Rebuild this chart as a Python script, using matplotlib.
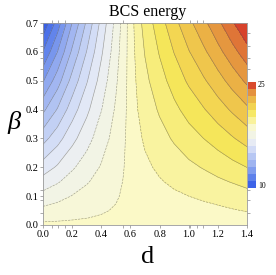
import matplotlib.pyplot as plt
import numpy as np
from matplotlib.colors import LinearSegmentedColormap, Normalize

# grid: d along columns, beta along rows
d_values = [0.0, 0.1, 0.2, 0.3, 0.4, 0.5, 0.55, 0.6, 0.65, 0.7, 0.8, 0.9, 1.0, 1.1, 1.2, 1.3, 1.4]
beta_values = [0.0, 0.025, 0.05, 0.1, 0.15, 0.2, 0.3, 0.4, 0.5, 0.6, 0.7]
energy = [
    [18.61, 18.61, 18.61, 18.61, 18.61, 18.61, 18.61, 18.61, 18.61, 18.61, 18.61, 18.61, 18.61, 18.61, 18.61, 18.61, 18.61],
    [18.31, 18.36, 18.42, 18.47, 18.52, 18.57, 18.59, 18.62, 18.64, 18.66, 18.70, 18.74, 18.78, 18.82, 18.86, 18.91, 18.96],
    [18.00, 18.11, 18.23, 18.33, 18.43, 18.52, 18.57, 18.62, 18.68, 18.71, 18.78, 18.84, 18.90, 18.96, 19.02, 19.09, 19.16],
    [17.40, 17.61, 17.85, 18.05, 18.25, 18.43, 18.53, 18.64, 18.74, 18.81, 18.92, 19.03, 19.13, 19.22, 19.31, 19.42, 19.55],
    [16.79, 17.11, 17.47, 17.77, 18.06, 18.35, 18.49, 18.65, 18.81, 18.91, 19.08, 19.24, 19.38, 19.52, 19.67, 19.82, 19.98],
    [16.18, 16.61, 17.08, 17.49, 17.88, 18.26, 18.45, 18.66, 18.87, 19.01, 19.24, 19.44, 19.64, 19.82, 20.02, 20.23, 20.44],
    [14.97, 15.62, 16.32, 16.93, 17.52, 18.08, 18.38, 18.69, 19.00, 19.22, 19.55, 19.86, 20.16, 20.43, 20.72, 21.03, 21.35],
    [13.76, 14.62, 15.56, 16.37, 17.15, 17.91, 18.30, 18.71, 19.13, 19.42, 19.86, 20.28, 20.67, 21.03, 21.43, 21.84, 22.26],
    [12.55, 13.62, 14.80, 15.81, 16.79, 17.73, 18.22, 18.74, 19.26, 19.62, 20.18, 20.70, 21.19, 21.64, 22.13, 22.65, 23.18],
    [11.33, 12.62, 14.03, 15.24, 16.42, 17.55, 18.14, 18.77, 19.39, 19.82, 20.49, 21.11, 21.70, 22.25, 22.83, 23.46, 24.09],
    [10.12, 11.62, 13.27, 14.68, 16.06, 17.38, 18.06, 18.79, 19.52, 20.02, 20.80, 21.53, 22.22, 22.85, 23.54, 24.27, 25.00],
]
e_min, e_max = 10, 25
n_contours = 23
legend_labels = ["10", "25"]

# temperature-like map
anchor_values = [10, 11.5, 13, 14.5, 16, 17, 18, 18.8, 19.8, 20.75, 21.4, 22.05, 22.7,
                 23.35, 24.0, 24.6, 25]
anchor_colors = ["#2d55e6", "#5f82eb", "#93abef", "#b8c8f3", "#e0e6f7", "#eef1f0",
                 "#f6f7dc", "#fbf9c8", "#f8f08c", "#f5e65a", "#f3d652", "#efc64c",
                 "#ebb346", "#e69a40", "#e07a38", "#d8452c", "#d43a28"]
cmap = LinearSegmentedColormap.from_list(
    "temp", [((v - e_min) / (e_max - e_min), c) for v, c in zip(anchor_values, anchor_colors)]
)
norm = Normalize(e_min, e_max)

serif = "Liberation Serif"
fig = plt.figure(figsize=(2.76, 2.75), dpi=100)
ax = fig.add_axes([43 / 276, 50 / 275, 204 / 276, 202 / 275])

D, B = np.meshgrid(d_values, beta_values)
E = np.array(energy)
levels = np.linspace(e_min, e_max, n_contours + 1)
ax.contourf(D, B, E, levels=levels, cmap=cmap, norm=norm, extend="both")
styles = ["--" if 11 <= i <= 14 else "-" for i in range(len(levels))]
ax.contour(D, B, E, levels=levels, colors="#555555", linewidths=0.45, alpha=0.55,
           linestyles=styles)

ax.set_xlim(0, 1.4)
ax.set_ylim(0, 0.7)
ax.set_xticks(np.arange(0, 1.41, 0.2))
ax.set_yticks(np.arange(0, 0.71, 0.1))
ax.set_xticklabels([f"{v:.1f}" for v in np.arange(0, 1.41, 0.2)], fontfamily=serif, fontsize=7.5)
ax.set_yticklabels([f"{v:.1f}" for v in np.arange(0, 0.71, 0.1)], fontfamily=serif, fontsize=7.5)
ax.tick_params(length=2, width=0.5, color="#888888", pad=1.5, direction="out")
ax.set_xticks([0.06, 0.10, 0.15, 0.55, 1.01, 1.06, 1.10], minor=True)
ax.set_yticks([0.042, 0.087, 0.121, 0.5, 0.54, 0.58, 0.62, 0.665], minor=True)
ax.tick_params(which="minor", length=2, width=0.5, color="#888888", top=True, right=True)
for s in ax.spines.values():
    s.set_color("#999999")
    s.set_linewidth(0.6)

fig.text(148 / 276, 1 - 12 / 275, "BCS energy", ha="center", va="center",
         fontfamily=serif, fontsize=11.5)
fig.text(148 / 276, 1 - 257 / 275, "d", ha="center", va="center", fontfamily=serif, fontsize=19)
fig.text(14 / 276, 1 - 123 / 275, "β", ha="center", va="center", fontfamily=serif,
         fontstyle="italic", fontsize=19)

# discrete legend bar
cax = fig.add_axes([248 / 276, 1 - 188 / 275, 8 / 276, 106 / 275])
bar_levels = np.arange(e_min, e_max + 1)
cax.pcolormesh([0, 1], bar_levels, ((bar_levels[:-1] + bar_levels[1:]) / 2)[:, None],
               cmap=cmap, norm=norm)
cax.set_xlim(0, 1)
cax.set_ylim(e_min, e_max)
cax.axis("off")
fig.text(258 / 276, 1 - 85 / 275, legend_labels[1], ha="left", va="center",
         fontfamily=serif, fontsize=5.5)
fig.text(258 / 276, 1 - 186 / 275, legend_labels[0], ha="left", va="center",
         fontfamily=serif, fontsize=5.5)

fig.savefig("out.png", dpi=100)
